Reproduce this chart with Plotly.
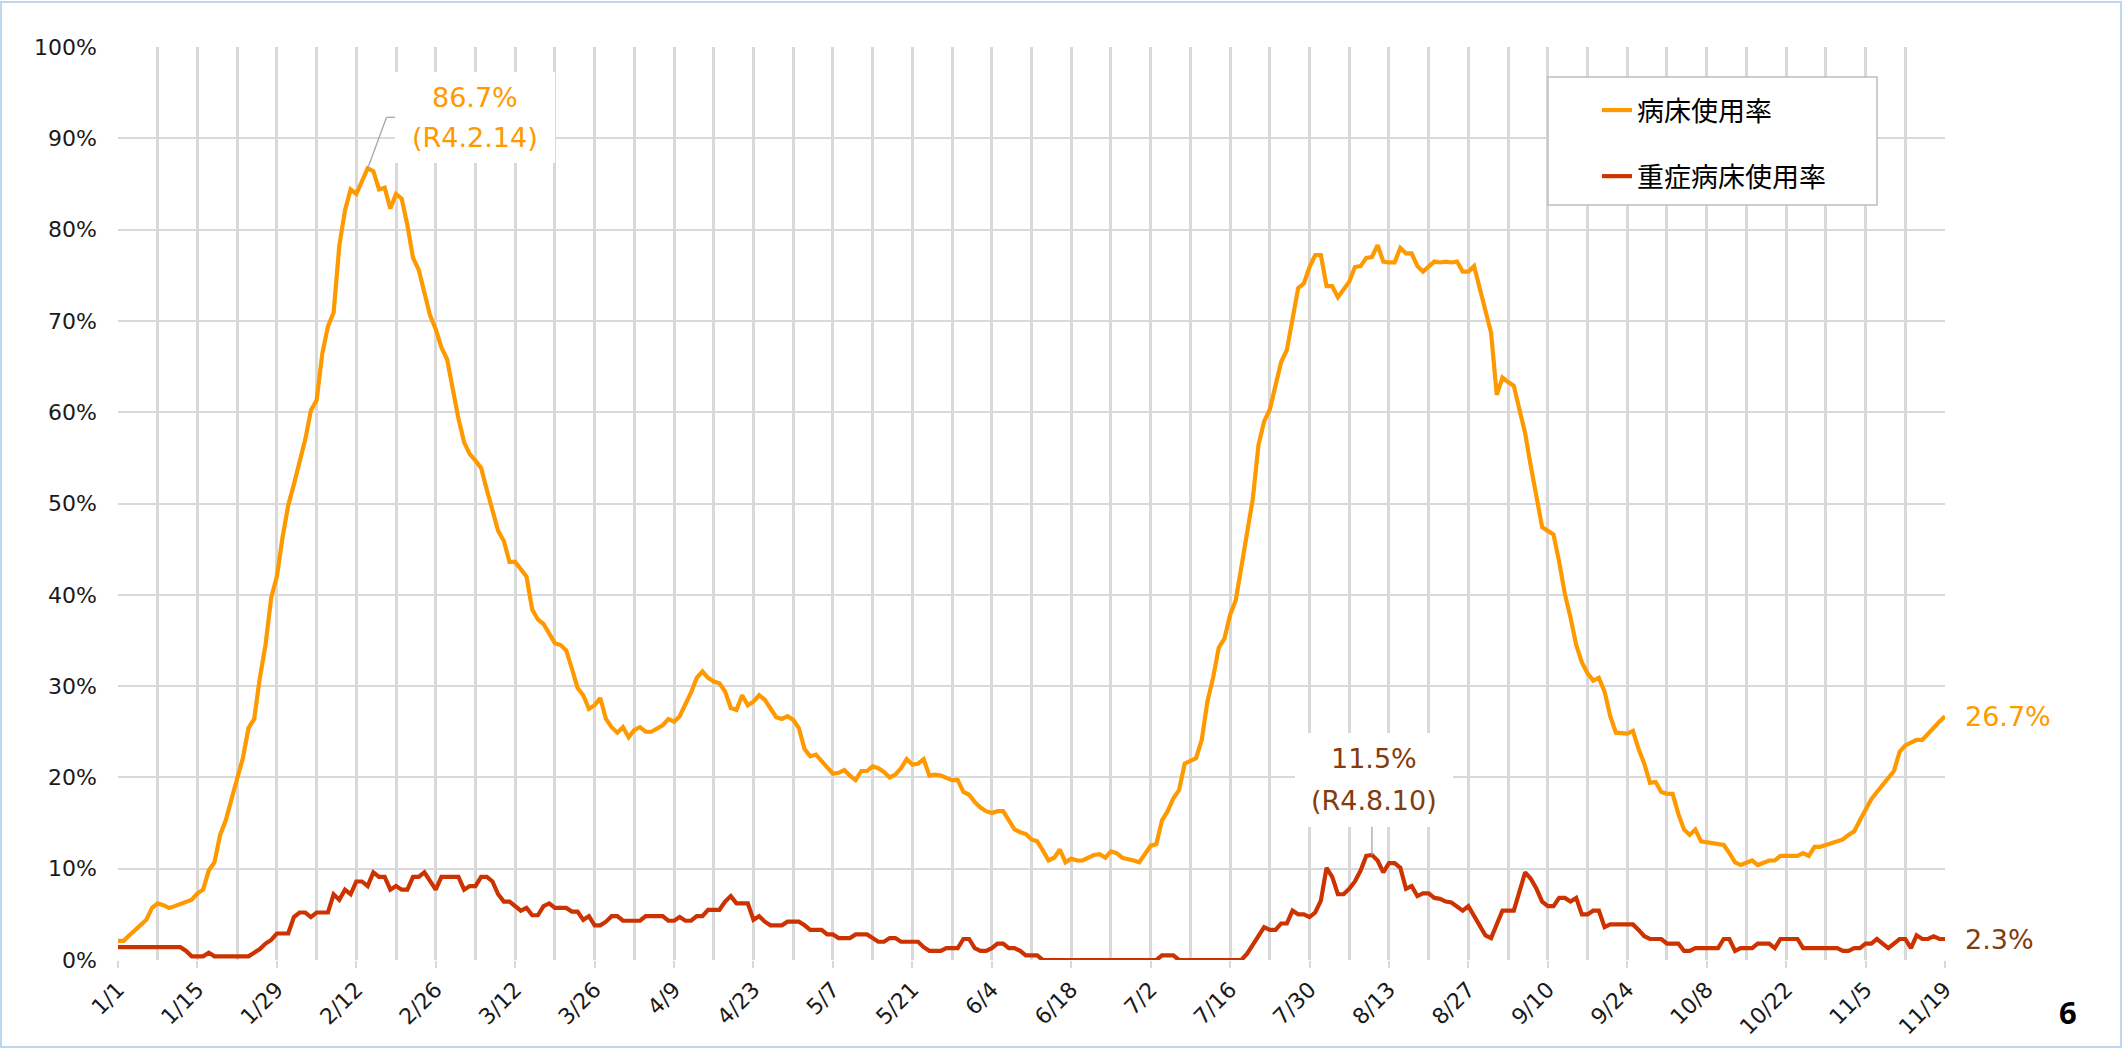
import pandas as pd
import plotly.graph_objects as go

start_date = "2022-01-01"

# 病床使用率 (%), daily from 1/1 to 11/19
bed_rate = [
    # Jan
    2.1, 2.1, 2.7, 3.3, 3.8, 4.4, 5.7, 6.2, 6.0, 5.7, 5.9, 6.1, 6.4, 6.6, 7.3, 7.7,
    9.8, 10.7, 13.7, 15.3, 17.6, 19.7, 22.1, 25.4, 26.4, 30.9, 34.5, 39.7, 42.0, 46.3, 49.8,
    # Feb
    52.1, 54.6, 57.0, 60.2, 61.3, 66.4, 69.4, 70.9, 78.2, 82.1, 84.4, 83.9, 85.4, 86.7,
    86.4, 84.4, 84.6, 82.3, 83.9, 83.4, 80.5, 76.9, 75.6, 73.2, 70.6, 69.1, 67.1, 65.8,
    # Mar
    62.5, 59.3, 56.7, 55.4, 54.7, 53.9, 51.5, 49.2, 47.0, 45.9, 43.6, 43.6, 42.7, 42.0,
    38.4, 37.3, 36.8, 35.8, 34.7, 34.5, 33.9, 31.9, 29.8, 29.0, 27.5, 27.9, 28.7, 26.4,
    25.5, 24.9, 25.5,
    # Apr
    24.4, 25.2, 25.5, 25.0, 25.0, 25.3, 25.7, 26.4, 26.1, 26.7, 28.0, 29.3, 30.9, 31.6,
    30.9, 30.5, 30.3, 29.4, 27.6, 27.4, 29.0, 27.9, 28.3, 29.0, 28.5, 27.5, 26.6, 26.4,
    26.7, 26.3,
    # May
    25.4, 23.1, 22.3, 22.5, 21.8, 21.0, 20.4, 20.5, 20.8, 20.2, 19.7, 20.7, 20.7, 21.2,
    21.0, 20.6, 20.0, 20.3, 21.0, 22.0, 21.4, 21.5, 22.0, 20.2, 20.3, 20.2, 19.9, 19.7,
    19.7, 18.4, 18.1,
    # Jun
    17.3, 16.7, 16.3, 16.1, 16.3, 16.3, 15.3, 14.3, 14.0, 13.8, 13.2, 13.0, 12.0, 10.9,
    11.2, 12.1, 10.7, 11.1, 10.9, 10.9, 11.2, 11.5, 11.6, 11.2, 11.9, 11.7, 11.2, 11.1,
    10.9, 10.7,
    # Jul
    11.6, 12.5, 12.7, 15.3, 16.3, 17.7, 18.6, 21.5, 21.8, 22.1, 24.1, 28.3, 30.9, 34.2,
    35.2, 37.8, 39.4, 43.0, 46.9, 50.5, 56.4, 59.0, 60.3, 63.1, 65.5, 66.8, 70.4, 73.6,
    74.1, 75.9, 77.2,
    # Aug
    77.2, 73.8, 73.8, 72.6, 73.5, 74.3, 75.9, 76.0, 76.9, 77.0, 78.3, 76.5, 76.4, 76.4,
    78.0, 77.4, 77.4, 76.0, 75.4, 76.0, 76.5, 76.4, 76.5, 76.4, 76.5, 75.4, 75.4, 76.0,
    73.6, 71.1, 68.7,
    # Sep
    61.9, 63.8, 63.3, 62.9, 60.3, 57.7, 54.1, 50.9, 47.4, 47.0, 46.6, 43.6, 40.1, 37.5,
    34.5, 32.6, 31.4, 30.6, 30.9, 29.4, 26.7, 24.9, 24.8, 24.8, 25.1, 23.1, 21.5, 19.4,
    19.5, 18.4,
    # Oct
    18.2, 18.2, 16.0, 14.3, 13.7, 14.3, 13.0, 12.9, 12.7, 12.7, 12.6, 11.7, 10.7, 10.4,
    10.6, 10.9, 10.4, 10.7, 10.9, 10.9, 11.4, 11.4, 11.4, 11.4, 11.7, 11.4, 12.4, 12.4,
    12.6, 12.8, 13.0,
    # Nov
    13.2, 13.7, 14.1, 15.3, 16.5, 17.6, 18.4, 19.2, 20.0, 20.7, 22.8, 23.5, 23.8, 24.1,
    24.1, 24.8, 25.5, 26.1, 26.7,
]

# 重症病床使用率 (%), daily from 1/1 to 11/19
severe_rate = [
    # Jan
    1.4, 1.4, 1.4, 1.4, 1.4, 1.4, 1.4, 1.4, 1.4, 1.4, 1.4, 1.4, 1.0, 0.4, 0.4, 0.4,
    0.8, 0.4, 0.4, 0.4, 0.4, 0.4, 0.4, 0.4, 0.8, 1.2, 1.8, 2.2, 2.9, 2.9, 2.9,
    # Feb
    4.7, 5.2, 5.2, 4.7, 5.2, 5.2, 5.2, 7.2, 6.6, 7.7, 7.2, 8.6, 8.6, 8.1, 9.6, 9.1, 9.1,
    7.7, 8.1, 7.7, 7.7, 9.1, 9.1, 9.6, 8.6, 7.7, 9.1, 9.1,
    # Mar
    9.1, 9.1, 7.7, 8.1, 8.1, 9.1, 9.1, 8.6, 7.2, 6.4, 6.4, 5.9, 5.4, 5.7, 4.9, 4.9,
    5.9, 6.2, 5.7, 5.7, 5.7, 5.3, 5.3, 4.4, 4.8, 3.8, 3.8, 4.2, 4.8, 4.8, 4.3,
    # Apr
    4.3, 4.3, 4.3, 4.8, 4.8, 4.8, 4.8, 4.3, 4.3, 4.7, 4.3, 4.3, 4.8, 4.8, 5.5, 5.5,
    5.5, 6.4, 7.0, 6.2, 6.2, 6.2, 4.4, 4.8, 4.2, 3.8, 3.8, 3.8, 4.2, 4.2,
    # May
    4.2, 3.8, 3.3, 3.3, 3.3, 2.8, 2.8, 2.4, 2.4, 2.4, 2.8, 2.8, 2.8, 2.4, 2.0, 2.0,
    2.4, 2.4, 2.0, 2.0, 2.0, 2.0, 1.4, 1.0, 1.0, 1.0, 1.3, 1.3, 1.3, 2.3, 2.3,
    # Jun
    1.3, 1.0, 1.0, 1.3, 1.8, 1.8, 1.3, 1.3, 1.0, 0.5, 0.5, 0.5, 0.0, 0.0, 0.0, 0.0,
    0.0, 0.0, 0.0, 0.0, 0.0, 0.0, 0.0, 0.0, 0.0, 0.0, 0.0, 0.0, 0.0, 0.0,
    # Jul
    0.0, 0.0, 0.0, 0.5, 0.5, 0.5, 0.0, 0.0, 0.0, 0.0, 0.0, 0.0, 0.0, 0.0, 0.0, 0.0,
    0.0, 0.0, 0.7, 1.6, 2.7, 3.6, 3.3, 3.3, 4.0, 4.0, 5.4, 5.0, 5.0, 4.7, 5.2,
    # Aug
    6.5, 10.1, 9.1, 7.2, 7.2, 7.8, 8.6, 9.8, 11.4, 11.5, 10.9, 9.6, 10.6, 10.6, 10.1,
    7.8, 8.1, 7.0, 7.3, 7.3, 6.8, 6.7, 6.4, 6.3, 5.9, 5.4, 5.9, 4.8, 3.9, 2.7, 2.4,
    # Sep
    4.0, 5.4, 5.4, 5.4, 7.5, 9.6, 8.9, 7.8, 6.4, 5.9, 5.9, 6.8, 6.8, 6.4, 6.8, 5.0,
    5.0, 5.4, 5.4, 3.6, 3.9, 3.9, 3.9, 3.9, 3.9, 3.3, 2.6, 2.3, 2.3, 2.3,
    # Oct
    1.8, 1.8, 1.8, 1.0, 1.0, 1.3, 1.3, 1.3, 1.3, 1.3, 2.3, 2.3, 1.0, 1.3, 1.3, 1.3,
    1.8, 1.8, 1.8, 1.3, 2.3, 2.3, 2.3, 2.3, 1.3, 1.3, 1.3, 1.3, 1.3, 1.3, 1.3,
    # Nov
    1.0, 1.0, 1.3, 1.3, 1.8, 1.8, 2.3, 1.8, 1.3, 1.8, 2.3, 2.3, 1.3, 2.7, 2.3, 2.3,
    2.6, 2.3, 2.3,
]

series_names = ["病床使用率", "重症病床使用率"]
series_colors = ["#FF9900", "#CC3300"]
label_colors = ["#FF9900", "#843C0C"]

dates = pd.date_range(start_date, periods=len(bed_rate), freq="D")

W, H = 2123, 1049
L, R, T, B = 118, 178, 47, 89
PW, PH = W - L - R, H - T - B


def px_x(p):
    return (p - L) / PW


def px_y(p):
    return (H - B - p) / PH


fig = go.Figure()
for i, (vals, name) in enumerate([(bed_rate, series_names[0]), (severe_rate, series_names[1])]):
    fig.add_trace(go.Scatter(
        x=dates, y=vals, mode="lines", name=name,
        legendgroup=f"g{i}",
        line=dict(color=series_colors[i], width=4.2),
        hoverinfo="skip",
    ))

grid = "#D9D9D9"
font_main = "DejaVu Sans, Noto Sans CJK JP, sans-serif"

shapes = []
annotations = []

# legend frame
shapes.append(dict(type="rect", xref="paper", yref="paper",
                   x0=px_x(1548), x1=px_x(1877), y0=px_y(205), y1=px_y(77),
                   fillcolor="white", line=dict(color="#BFBFBF", width=1.5), layer="above"))


def reiwa(d):
    return f"(R{d.year - 2018}.{d.month}.{d.day})"


# peak labels
peak_specs = [
    (bed_rate, 0, (395, 555, 72, 163), (97, 137)),
    (severe_rate, 1, (1295, 1453, 733, 827), (758, 800)),
]
for vals, idx, box, text_y in peak_specs:
    k = max(range(len(vals)), key=lambda j: vals[j])
    d = dates[k]
    v = vals[k]
    x0, x1, y0, y1 = box
    shapes.append(dict(type="rect", xref="paper", yref="paper",
                       x0=px_x(x0), x1=px_x(x1), y0=px_y(y1), y1=px_y(y0),
                       fillcolor="white", line=dict(width=0), layer="above"))
    cx = px_x((x0 + x1) / 2)
    for txt, ty in [(f"{v:.1f}%", text_y[0]), (reiwa(d), text_y[1])]:
        annotations.append(dict(x=cx, y=px_y(ty), xref="paper", yref="paper",
                                xanchor="center", yanchor="middle",
                                text=txt, showarrow=False,
                                font=dict(size=27, color=label_colors[idx], family=font_main)))

# leader lines
k0 = max(range(len(bed_rate)), key=lambda j: bed_rate[j])
elbow = dates[k0] + pd.Timedelta(hours=80)
shapes.append(dict(type="line", xref="x", yref="y",
                   x0=dates[k0], y0=bed_rate[k0], x1=elbow, y1=92.3,
                   line=dict(color="#A6A6A6", width=1.3), layer="above"))
shapes.append(dict(type="line", xref="x", yref="y",
                   x0=elbow, y0=92.3, x1=dates[k0] + pd.Timedelta(hours=116), y1=92.3,
                   line=dict(color="#A6A6A6", width=1.3), layer="above"))
k1 = max(range(len(severe_rate)), key=lambda j: severe_rate[j])
shapes.append(dict(type="line", xref="x", yref="y",
                   x0=dates[k1], y0=severe_rate[k1], x1=dates[k1], y1=14.6,
                   line=dict(color="#A6A6A6", width=1.3), layer="above"))

# end labels
for vals, idx in [(bed_rate, 0), (severe_rate, 1)]:
    annotations.append(dict(x=dates[-1], y=vals[-1], xref="x", yref="y",
                            text=f"{vals[-1]:.1f}%", showarrow=False,
                            xanchor="left", yanchor="middle", xshift=18,
                            font=dict(size=27, color=label_colors[idx], family=font_main)))

# page number
annotations.append(dict(x=px_x(2068), y=px_y(1012), xref="paper", yref="paper",
                        xanchor="center", yanchor="middle",
                        text="<b>6</b>", showarrow=False,
                        font=dict(size=31, color="black", family="Noto Sans, DejaVu Sans")))

# page border
shapes.append(dict(type="rect", xref="paper", yref="paper",
                   x0=px_x(1), x1=px_x(2121), y0=px_y(1047), y1=px_y(2),
                   line=dict(color="#BDD7EE", width=2), fillcolor="rgba(0,0,0,0)", layer="above"))

fig.update_layout(
    width=W, height=H,
    margin=dict(l=L, r=R, t=T, b=B, autoexpand=False),
    paper_bgcolor="white", plot_bgcolor="white",
    font=dict(family=font_main, color="#1A1A1A"),
    showlegend=True,
    legend=dict(x=px_x(1597), y=px_y(86), xanchor="left", yanchor="top",
                bgcolor="rgba(0,0,0,0)", borderwidth=0,
                traceorder="grouped", tracegroupgap=28,
                font=dict(size=27, family="Noto Sans CJK JP", color="black")),
    xaxis=dict(
        type="date", range=[dates[0], dates[-1]],
        tick0=start_date, dtick=14 * 86400000, tickformat="%-m/%-d",
        tickangle=-45, tickfont=dict(size=22, color="#1A1A1A"),
        showgrid=True, gridcolor=grid, gridwidth=2.8,
        minor=dict(tick0=start_date, dtick=7 * 86400000, showgrid=True,
                   gridcolor=grid, gridwidth=2.8),
        ticks="outside", ticklen=7, tickwidth=2, tickcolor=grid,
        zeroline=False, showline=False,
    ),
    yaxis=dict(
        range=[0, 100], dtick=10, ticksuffix="%",
        tickfont=dict(size=22, color="#1A1A1A"),
        showgrid=True, gridcolor=grid, gridwidth=2,
        zeroline=False, showline=False, ticks="", ticklabelstandoff=20,
    ),
    shapes=shapes,
    annotations=annotations,
)

fig.write_html("out.html", config={"displayModeBar": False},
               post_script="document.body.style.margin='0';document.body.style.overflow='hidden';")
